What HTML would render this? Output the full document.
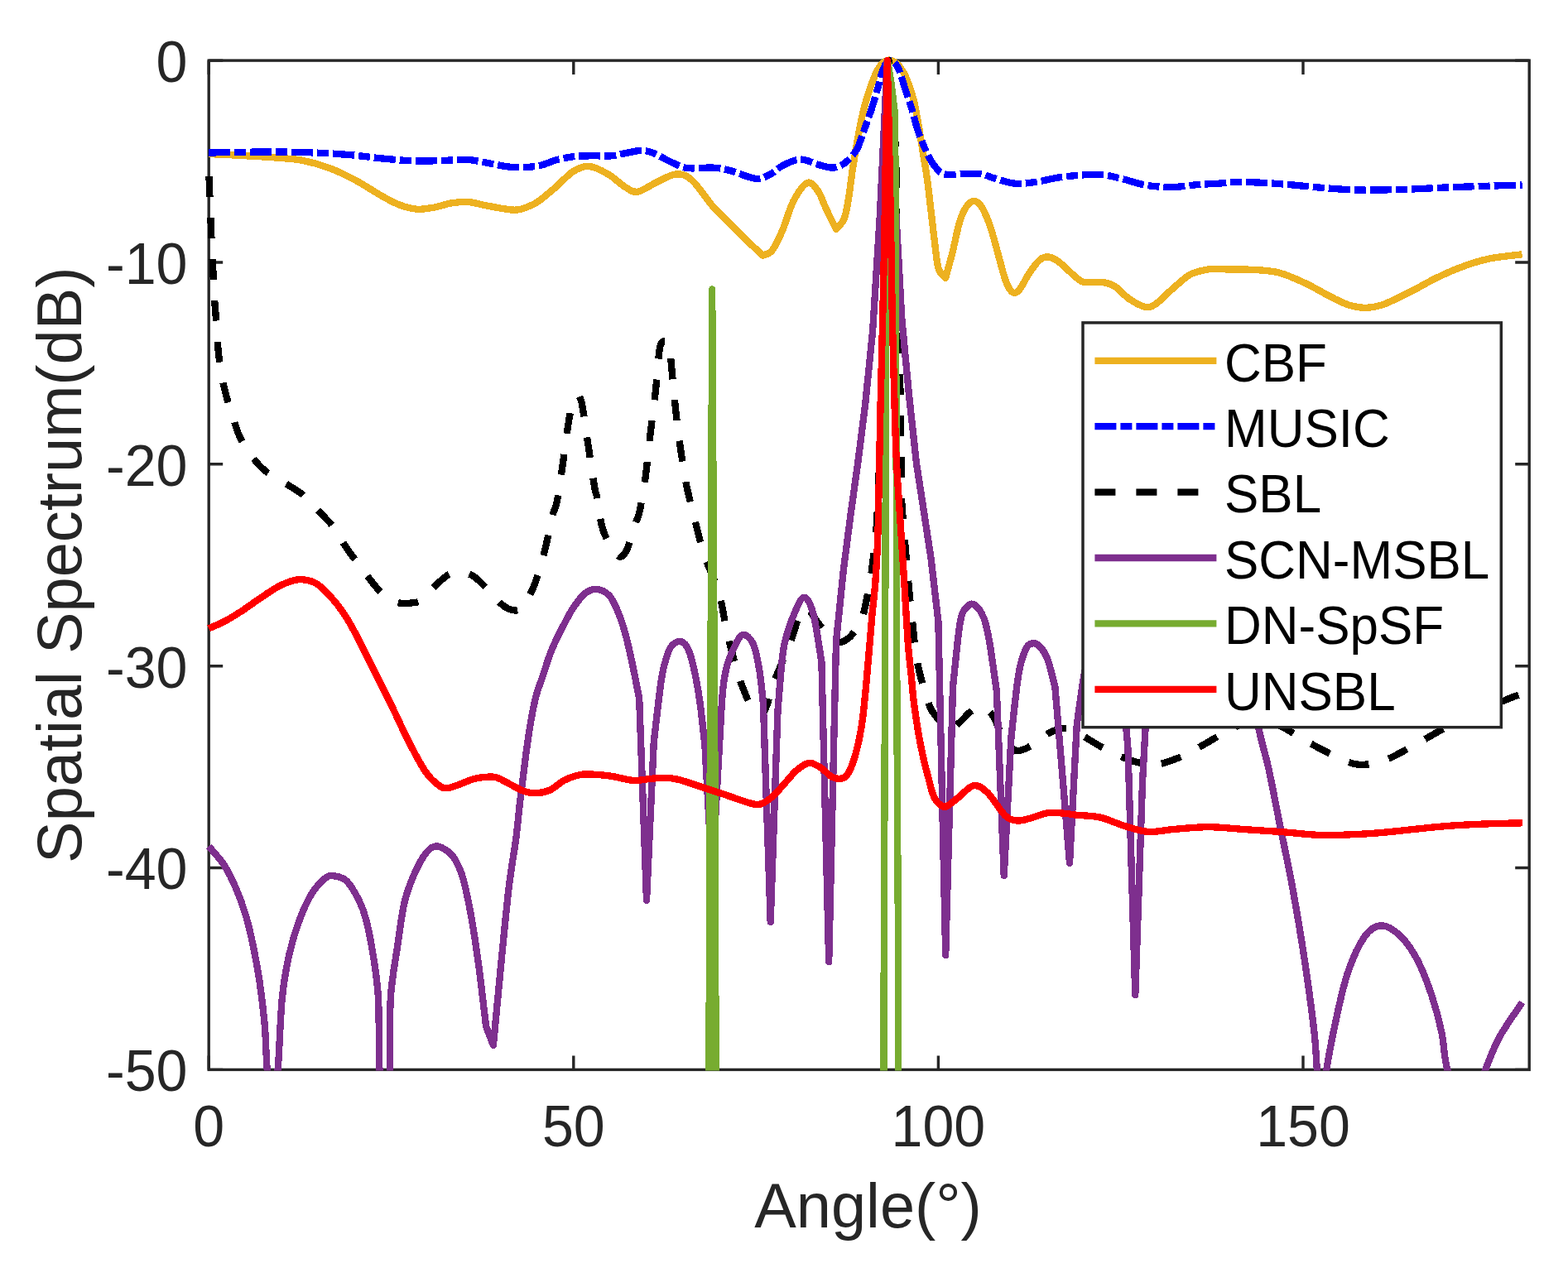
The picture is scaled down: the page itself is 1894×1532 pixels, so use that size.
<!DOCTYPE html>
<html><head><meta charset="utf-8"><title>Spatial Spectrum</title><style>html,body{margin:0;padding:0;background:#fff;}svg{display:block;}text{font-family:"Liberation Sans",sans-serif;}</style></head><body>
<svg width="1894" height="1532" viewBox="0 0 1894 1532">
<rect width="1894" height="1532" fill="#fff"/>
<defs><clipPath id="c"><rect x="236" y="40" width="1630" height="1253.4"/></clipPath></defs>
<rect x="252.2" y="73.1" width="1595" height="1219.3" fill="none" stroke="#262626" stroke-width="3.4"/>
<path d="M252.2 1292.4V1275.4M252.2 73.1V90.1M692.8 1292.4V1275.4M692.8 73.1V90.1M1133.4 1292.4V1275.4M1133.4 73.1V90.1M1574 1292.4V1275.4M1574 73.1V90.1M252.2 73.1H269.2M1847.2 73.1H1830.2M252.2 317H269.2M1847.2 317H1830.2M252.2 560.8H269.2M1847.2 560.8H1830.2M252.2 804.7H269.2M1847.2 804.7H1830.2M252.2 1048.5H269.2M1847.2 1048.5H1830.2M252.2 1292.4H269.2M1847.2 1292.4H1830.2" stroke="#262626" stroke-width="3.4" fill="none"/>
<g font-size="71" fill="#262626"><text transform="translate(252.2 1385.2) scale(0.96 1)" text-anchor="middle">0</text><text transform="translate(692.8 1385.2) scale(0.96 1)" text-anchor="middle">50</text><text transform="translate(1133.4 1385.2) scale(0.96 1)" text-anchor="middle">100</text><text transform="translate(1574 1385.2) scale(0.96 1)" text-anchor="middle">150</text><text transform="translate(226.5 98.9) scale(0.96 1)" text-anchor="end">0</text><text transform="translate(226.5 342.8) scale(0.96 1)" text-anchor="end">-10</text><text transform="translate(226.5 586.6) scale(0.96 1)" text-anchor="end">-20</text><text transform="translate(226.5 830.5) scale(0.96 1)" text-anchor="end">-30</text><text transform="translate(226.5 1074.3) scale(0.96 1)" text-anchor="end">-40</text><text transform="translate(226.5 1318.2) scale(0.96 1)" text-anchor="end">-50</text></g>
<text x="1048.5" y="1482.7" text-anchor="middle" font-size="75.8" fill="#262626">Angle(°)</text>
<text transform="translate(97.5 682.7) rotate(-90)" text-anchor="middle" font-size="75.8" fill="#262626">Spatial Spectrum(dB)</text>
<g clip-path="url(#c)"><path d="M252.2 186C258.9 186.3 278.5 187.2 292.2 188C305.9 188.8 322.2 189.6 334.5 190.6C346.8 191.6 355.6 191.9 366.2 194C376.8 196.1 387.2 199 397.8 203C408.4 207 418.9 212.2 429.5 217.8C440.1 223.4 452.4 231.9 461.2 236.8C470 241.7 475.3 244.8 482.3 247.4C489.3 250.1 496.4 252.2 503.4 252.7C510.4 253.2 517.5 251.8 524.5 250.6C531.5 249.4 538.7 246.4 545.7 245.3C552.8 244.2 559.8 243.7 566.8 244.2C573.8 244.7 578.8 246.9 587.9 248.5C597 250.1 612.9 253.7 621.7 253.7C630.5 253.7 636 250.2 640.7 248.5C645.4 246.8 644.9 247.2 650 243.5C655.1 239.8 664.1 232.3 671.1 226.3C678.1 220.3 685.5 211.5 692.2 207.3C698.9 203.1 704.2 200.4 711.2 200.9C718.2 201.4 727.1 206.2 734.5 210.4C741.9 214.6 749.6 222.8 755.6 226.3C761.6 229.8 764.1 232.7 770.4 231.6C776.7 230.5 785.9 223.5 793.6 220C801.3 216.5 809.8 210.8 816.8 210.4C823.8 210 828.5 211.3 835.9 217.8C843.3 224.3 853.5 240.7 861.2 249.5C868.9 258.3 875.3 263.6 882.3 270.6C889.3 277.7 896.9 285.5 903.4 291.8C909.9 298.1 918.4 305.8 921.4 308.6C923.3 307.6 929 307.6 933 302.3C937 297 941.5 286.9 945.7 277C949.9 267.1 953.4 252.5 958.3 243.2C963.2 233.9 970.3 223.1 975.2 221C980.1 218.9 984 225.1 987.9 230.5C991.8 235.9 994.8 245.9 998.5 253.7C1002.2 261.4 1008.1 273.1 1010 277C1011.6 274.9 1017.1 270.5 1019.6 264.3C1022.1 258.1 1023.3 250.1 1025 240C1026.7 229.9 1027.9 217.3 1030 203.6C1032.1 189.9 1035.4 170.5 1037.8 157.9C1040.2 145.3 1042 137.1 1044.4 127.9C1046.8 118.8 1049.6 110.2 1052.2 103C1054.8 95.8 1057.5 89.1 1060 84.5C1062.5 79.9 1064.8 77.5 1067 75.5C1069.2 73.5 1071.3 72.7 1073.5 72.5C1075.7 72.3 1077.9 73.3 1080 74.5C1082.1 75.7 1083.7 76.5 1086 79.5C1088.3 82.5 1091.2 86.1 1094 92.6C1096.8 99.1 1100.5 108.9 1103.1 118.7C1105.7 128.5 1107.6 140.5 1109.6 151.4C1111.5 162.3 1113.1 173.1 1114.8 184C1116.5 194.9 1118.5 205.6 1120 216.6C1121.5 227.6 1122.4 236.5 1124 250C1125.6 263.5 1128 285.2 1129.6 297.8C1131.2 310.4 1131.7 319 1133.8 325.3C1135.9 331.6 1140.8 334.1 1142.2 335.8C1143.6 330.5 1147.9 315.4 1150.7 304.2C1153.5 292.9 1156.3 277.4 1159.1 268.3C1161.9 259.2 1164.6 253.5 1167.6 249.3C1170.6 245.1 1173.9 242.6 1177.1 242.9C1180.3 243.2 1183.3 245.8 1186.6 251.4C1189.9 257 1193.6 266.1 1197.1 276.7C1200.6 287.2 1204.7 304.1 1207.7 314.7C1210.7 325.3 1212.6 333.8 1215.1 340.1C1217.6 346.4 1219.9 350.9 1222.5 352.7C1225.1 354.4 1227.4 354.5 1230.9 350.6C1234.4 346.7 1239.4 335.6 1243.6 329.5C1247.8 323.4 1252.4 316.9 1256.3 313.7C1260.2 310.5 1262.9 310 1266.8 310.5C1270.7 311 1273.9 312.6 1279.5 316.8C1285.1 321 1295.3 331.8 1300.6 335.8C1305.9 339.9 1305.9 340.2 1311.2 341.1C1316.5 342 1326.3 340.2 1332.3 341.1C1338.3 342 1341.8 343 1347.1 346.4C1352.4 349.8 1358 357.1 1364 361.2C1370 365.2 1377.7 369.6 1383 370.7C1388.3 371.8 1390.1 371.2 1395.7 367.5C1401.3 363.8 1409.8 354.5 1416.8 348.5C1423.8 342.5 1430.9 335.4 1437.9 331.6C1444.9 327.8 1453.5 326.6 1459 325.5C1464.5 324.4 1462 325.2 1471.1 325.3C1480.2 325.4 1501.1 325.2 1513.4 325.9C1525.7 326.6 1534.5 326.8 1545 329.5C1555.5 332.2 1566.1 337.3 1576.7 342.2C1587.3 347.1 1599.6 354.7 1608.4 359.1C1617.2 363.5 1622.5 366.5 1629.5 368.6C1636.5 370.7 1643.5 372 1650.6 371.8C1657.6 371.6 1663 370.7 1671.8 367.5C1680.6 364.3 1692.9 358 1703.4 352.7C1714 347.4 1724.5 340.9 1735.1 335.8C1745.7 330.7 1756.2 326 1766.8 322.1C1777.4 318.2 1786.5 315.1 1798.5 312.6C1810.5 310.1 1831.9 308.2 1838.6 307.3" stroke="#EDB120" fill="none" stroke-width="8.33" stroke-linejoin="round" shape-rendering="crispEdges"/><path d="M252.2 184.5C262.4 184.3 294.4 183.7 313.4 183.6C332.4 183.5 348.6 183.5 366.2 184C383.8 184.5 403.2 185.6 419 186.8C434.8 188 447.1 190.1 461.2 191.4C475.3 192.7 489.3 194.2 503.4 194.6C517.5 194.9 535.1 193.8 545.7 193.5C556.3 193.2 559.8 192.6 566.8 193.1C573.8 193.6 579.1 195.2 587.9 196.7C596.7 198.2 609.2 201.4 619.6 202C630 202.6 641.4 201.9 650 200.5C658.6 199.1 664.1 195.4 671.1 193.5C678.1 191.6 685.2 190.2 692.2 189.3C699.2 188.4 705.6 188.5 713.4 188.3C721.1 188.1 731.7 188.8 738.7 188.3C745.7 187.8 749.6 186.2 755.6 185.1C761.6 184 769 181.9 774.6 181.9C780.2 181.9 783.4 182.8 789.4 185.1C795.4 187.4 803.8 192.7 810.5 195.7C817.2 198.7 821 201.8 829.5 203C838 204.2 852.4 202.1 861.2 202.6C870 203.1 873.8 204 882.3 206.2C890.8 208.4 904.1 214.8 911.9 215.7C919.6 216.6 923.2 214.1 928.8 211.5C934.4 208.9 939.4 203.1 945.7 199.9C952 196.7 959.8 192.7 966.8 192.5C973.8 192.3 981.9 197.1 987.9 198.8C993.9 200.5 998.8 202.1 1003 202.5C1007.2 202.9 1009.6 202.3 1013 201C1016.4 199.7 1019.8 197.9 1023.5 194.4C1027.2 190.9 1032 185.9 1035.2 180C1038.5 174.1 1040.6 165.7 1043 159.2C1045.4 152.7 1047.6 146.7 1049.6 141C1051.6 135.3 1052.8 131.6 1054.8 125.3C1056.8 119 1059.5 109.2 1061.3 103C1063 96.8 1063.8 92.3 1065.3 88C1066.8 83.7 1068.3 79.5 1070 77C1071.7 74.5 1073.7 73.1 1075.5 73C1077.3 72.9 1079.2 74.5 1081 76.5C1082.8 78.5 1083.9 79.3 1086.1 84.8C1088.3 90.3 1091.4 101.5 1094 109.6C1096.6 117.6 1099.4 125.3 1101.8 133.1C1104.2 140.9 1105.7 148.8 1108.3 156.6C1110.9 164.4 1114.3 173 1117.5 180C1120.7 187 1123.7 193.6 1127.5 198.6C1131.3 203.6 1134.1 208.3 1140.1 210.2C1146.1 212.1 1156 210.2 1163.4 210.2C1170.8 210.2 1178.2 209.3 1184.5 210.2C1190.8 211.1 1194.4 213.6 1201.4 215.5C1208.4 217.4 1218.2 221.1 1226.7 221.8C1235.2 222.5 1243.3 220.9 1252.1 219.7C1260.9 218.5 1269.7 215.8 1279.5 214.4C1289.3 213 1302.4 211.7 1311.2 211.2C1320 210.7 1325.3 210.5 1332.3 211.2C1339.3 211.9 1344.6 213.4 1353.4 215.5C1362.2 217.6 1374.5 222.2 1385.1 223.9C1395.7 225.7 1406.2 226.2 1416.8 226C1427.4 225.8 1439.5 223.6 1448.5 222.9C1457.5 222.2 1463.8 222.3 1471.1 221.8C1478.4 221.3 1483.4 219.9 1492.2 219.7C1501 219.5 1513.3 220.3 1523.9 220.8C1534.5 221.3 1545 222 1555.6 222.9C1566.2 223.8 1575 224.9 1587.3 226C1599.6 227.1 1617.2 228.6 1629.5 229.2C1641.8 229.8 1648.9 229.7 1661.2 229.6C1673.5 229.5 1689.3 229.1 1703.4 228.6C1717.5 228.1 1731.6 227.1 1745.7 226.5C1759.8 225.9 1772.4 225.5 1787.9 225C1803.4 224.5 1830.1 223.8 1838.6 223.5" stroke="#0000FF" fill="none" stroke-width="8.33" stroke-linejoin="round" shape-rendering="crispEdges" stroke-dasharray="26 5 14 5"/><path d="M252.5 213C252.7 217.5 253.2 231.3 253.5 240C253.8 248.7 254.2 256.7 254.5 265C254.8 273.3 255.1 280.8 255.5 290C255.9 299.2 256.4 308.3 257 320C257.6 331.7 258.2 348 259 360C259.8 372 260.7 380.8 261.5 392C262.3 403.2 262.9 416.5 264 427C265.1 437.5 266.5 446.7 268 455C269.5 463.3 271 469.5 273 477C275 484.5 277.5 492.2 280 500C282.5 507.8 285.2 517.2 288 524C290.8 530.8 293.8 535.8 297 541C300.2 546.2 303.8 551 307 555C310.2 559 312.8 562 316 565C319.2 568 320.7 569.5 326 573C331.3 576.5 342.5 582.7 348 586C353.5 589.3 355.5 590.6 359 593C362.5 595.4 364.5 596.2 369 600.5C373.5 604.8 381.7 614 386 618.6C390.3 623.2 392.2 624.9 395 628C397.8 631.1 399.5 632 403 637C406.5 642 412.6 652.7 416 658C419.4 663.3 420.5 665 423.2 668.7C425.9 672.4 426.9 673.3 432 680C437.1 686.7 447.6 701.5 453.9 708.8C460.2 716.1 464.6 720.2 469.7 723.6C474.8 727 479.9 728.1 484.5 728.9C489.1 729.7 492.8 729.2 497 728.5C501.2 727.8 504.9 728.3 509.8 724.7C514.8 721.1 520.7 712 526.7 706.7C532.7 701.4 538.7 694.7 545.7 692.7C552.8 690.7 561.6 691.1 569 694.5C576.4 697.9 583.7 706.9 590 713C596.3 719.1 602.1 727 607 731C611.9 735 615.7 736.6 619.6 737.2C623.5 737.8 626.7 737.8 630.2 734.5C633.7 731.2 637.6 723.7 640.8 717.3C644 710.9 646.6 704 649.2 696.2C651.8 688.5 654.3 679.6 656.6 670.8C658.9 662 661.1 651.9 663 643.4C664.9 634.9 666.5 626.4 668.2 620C669.9 613.6 671 615.8 673 605C675 594.2 678.1 572 680.5 555.4C682.9 538.8 685.5 517.2 687.6 505.3C689.7 493.4 691 488.4 693 484C695 479.6 698.7 479.8 699.8 479C700.4 480.8 701.5 480 703.2 489.6C705 499.2 707.8 520.2 710.3 536.6C712.8 553 716.3 577.7 718.1 588.3C719.9 598.9 719.5 591.9 721 600C722.5 608.1 724.6 627 727.4 637C730.2 647 734.4 654.4 737.9 660.3C741.4 666.2 745.3 671.8 748.5 672.5C751.7 673.2 753.8 671.1 757 664.5C760.2 657.9 764.9 640.8 767.5 632.8C770.1 624.8 770.9 626 772.9 616.5C774.9 607 777.6 591.1 779.7 575.8C781.8 560.5 783.5 541.9 785.5 524.9C787.5 507.9 789.9 490.8 791.7 474C793.5 457.2 795 434.1 796.4 423.9C797.8 413.7 798.7 415 800.4 413C802.1 411 805.6 412.2 806.6 412C807 413.4 807.8 410.9 809 420.7C810.2 430.5 812 454.1 813.7 470.8C815.4 487.5 817 504.6 819.1 521C821.2 537.5 824.4 558 826.2 569.5C828 581 828.2 581.7 830 590C831.8 598.3 833.9 606.2 837.2 619.2C840.5 632.2 844.7 651.8 849.9 668.1C855.1 684.4 863.8 701.1 868.5 717.1C873.2 733.1 874.5 748.1 878.3 764.1C882 780.1 886.9 799.5 891 813C895.1 826.5 899.5 837 903 845C906.5 853 909.2 857.7 912 861C914.8 864.3 917.5 866.8 920 865C922.5 863.2 924.5 856.9 927 850C929.5 843.1 930.5 836.2 935.1 823.8C939.7 811.4 949.9 788.4 954.7 775.8C959.5 763.2 961.4 754.6 964 748C966.6 741.4 968.1 737.7 970.4 736C972.7 734.3 974.7 734.8 978 738C981.3 741.2 985.4 749.5 990 755C994.6 760.5 1001.4 767.4 1005.6 770.9C1009.8 774.4 1012.2 775.8 1015.4 775.8C1018.6 775.8 1022.1 773.3 1025 771C1027.9 768.7 1030.4 765.4 1033 762C1035.6 758.6 1037.7 760.8 1040.7 750.7C1043.7 740.6 1048.2 718 1051 701.5C1053.8 685 1055.7 668.3 1057.3 652C1058.9 635.7 1059.3 628.8 1060.4 603.5C1061.5 578.2 1062.9 537.2 1064 500C1065.1 462.8 1066.1 421.7 1067 380C1067.9 338.3 1068.8 291.7 1069.5 250C1070.2 208.3 1070.8 159.5 1071.5 130C1072.2 100.5 1073.2 82.5 1073.5 73C1074.1 79.2 1075.9 97.2 1077 110C1078.1 122.8 1079.1 135 1080 150C1080.9 165 1081.9 175 1082.5 200C1083.1 225 1083 266.7 1083.5 300C1084 333.3 1084.7 375 1085.3 400C1085.9 425 1086.6 433.3 1087 450C1087.4 466.7 1087.5 483.2 1087.8 500C1088 516.8 1088.3 534.2 1088.5 551C1088.7 567.8 1088.3 584.5 1089 601C1089.7 617.5 1091.4 633.5 1092.7 650C1094 666.5 1095.4 683.3 1096.9 700C1098.5 716.7 1100.1 733.2 1102 750C1103.9 766.8 1104.9 784.3 1108.2 801C1111.5 817.7 1118 839.5 1121.8 850.3C1125.6 861.1 1128 861.7 1131 866C1134 870.3 1136.8 873.8 1140 876C1143.2 878.2 1146.7 879.7 1150 879C1153.3 878.3 1156.3 875.2 1160 872C1163.7 868.8 1168.3 863 1172 860C1175.7 857 1179 854.5 1182.3 854.2C1185.6 853.9 1189 856 1192 858C1195 860 1196.3 859.9 1200 866C1203.7 872.1 1209.2 887.6 1214 894.4C1218.8 901.2 1222.8 906.3 1228.8 907C1234.8 907.7 1243.6 902.1 1249.9 898.6C1256.2 895.1 1261.3 889 1266.8 885.9C1272.3 882.8 1278.1 880.7 1283 880C1287.9 879.3 1291.4 879.7 1296.4 881.7C1301.4 883.7 1305.8 887.8 1313.2 892.2C1320.6 896.6 1331.2 903.4 1340.7 908C1350.2 912.6 1360.8 917.4 1370 920C1379.2 922.6 1387.5 924.2 1395.8 923.7C1404.1 923.2 1412.2 919.9 1420 917C1427.8 914.1 1431.3 912.2 1442.3 906.3C1453.3 900.4 1474.6 887.3 1485.9 881.6C1497.2 875.9 1501 873.3 1510 872C1519 870.7 1528.5 870 1540 874C1551.5 878 1564.6 888.5 1578.8 896.1C1593 903.7 1613.6 914.8 1625.2 919.4C1636.8 924 1640.3 924 1648.5 923.7C1656.7 923.5 1663 922.7 1674.6 917.9C1686.2 913.1 1702.3 903.4 1718.2 894.7C1734.1 886.1 1753.4 874.1 1770 866C1786.6 857.9 1806.6 850.7 1818 846C1829.4 841.3 1835.2 839.3 1838.6 838" stroke="#000" fill="none" stroke-width="8.33" stroke-linejoin="round" shape-rendering="crispEdges" stroke-dasharray="25 25"/><path d="M252.2 1022.5C255.3 1026.4 265.5 1036.9 271.1 1045.7C276.7 1054.5 281.7 1065.5 285.9 1075.3C290.1 1085.1 293.3 1094.2 296.5 1104.8C299.7 1115.3 302.1 1125.2 304.9 1138.6C307.7 1152 310.9 1168.5 313.4 1185.1C315.9 1201.6 318.1 1219.8 319.7 1237.9C321.3 1256.1 321.3 1277 322.9 1294C324.4 1311 328 1332.3 329 1340C330.1 1332.3 333.5 1316.3 335.5 1294C337.5 1271.7 338.5 1229.6 340.8 1206.2C343.1 1182.8 345.8 1169.2 349.3 1153.4C352.8 1137.6 357.3 1123.5 361.9 1111.2C366.5 1098.9 371.4 1088 376.7 1079.5C382 1071 389 1064 393.6 1060.5C398.2 1057 400 1057.7 404.2 1058.4C408.4 1059.1 414.1 1059.8 419 1064.7C423.9 1069.6 429.8 1080.2 433.7 1087.9C437.6 1095.7 439.4 1100.3 442.2 1111.2C445 1122.1 448.1 1137.6 450.6 1153.4C453.1 1169.2 455.7 1182.8 457 1206.2C458.3 1229.6 457.3 1271.7 458.5 1294C459.7 1316.3 463.1 1332.3 464 1340C465.1 1332.3 469.4 1316.3 470.7 1294C472 1271.7 470.2 1231.4 471.8 1206.2C473.4 1181 477.4 1162.2 480.2 1142.8C483 1123.4 485.1 1104.8 488.6 1090C492.1 1075.2 496.7 1064.3 501.3 1054.1C505.9 1043.9 511.5 1034.1 516.1 1028.8C520.7 1023.5 523.9 1021.8 528.8 1022.5C533.7 1023.2 541.1 1028.1 545.7 1033C550.3 1037.9 553.4 1045.3 556.2 1052C559 1058.7 560.1 1063.7 562.3 1073.2C564.5 1082.7 566.8 1093.4 569.5 1109C572.2 1124.6 575.4 1145.2 578.3 1167C581.2 1188.8 585.6 1227.8 587.1 1240L595.9 1263L604.7 1170C606.2 1155.3 611.2 1102.8 613.5 1082C615.8 1061.2 616.8 1057 618.5 1045C620.2 1033 622.2 1022.1 623.7 1010C625.2 997.9 626.4 983.9 627.7 972.1C629.1 960.3 630.4 950.3 631.8 939.4C633.2 928.5 634.4 917.7 635.9 906.8C637.4 895.9 638.9 885.1 640.8 874.2C642.7 863.3 644.8 851.1 647.3 841.6C649.8 832.1 652.8 825.3 655.5 817.1C658.2 808.9 660.9 800 663.6 792.6C666.3 785.2 669.1 778.9 671.8 773C674.5 767.1 676.6 763.2 679.9 757C683.2 750.8 687 742.6 691.4 736C695.8 729.4 701.3 721.3 706.2 717.3C711.1 713.3 716.1 711.6 721 712C725.9 712.4 731.6 715.1 735.8 719.4C740 723.7 742.9 730.7 746 738C749.1 745.3 751.7 752.7 754.6 763C757.5 773.3 760.5 786.5 763.4 800C766.3 813.5 770.7 836.7 772.2 844L781 1088L789.8 896C791.3 883.8 796.2 839.3 798.6 823C801 806.7 802.1 804.9 804 798C805.9 791.1 807.4 785.6 810.2 781.8C813.1 778 817.8 775 821.1 775C824.4 775 827.4 777.2 830 781.8C832.6 786.4 834.5 792.2 837 802.7C839.5 813.2 842.5 828.3 844.9 844.5C847.3 860.7 850.3 890.8 851.4 900L860.2 1060L869 900C869.7 889.2 871.5 850.8 873 835C874.5 819.2 875.8 813.6 878 805C880.2 796.4 883.1 789.9 886.2 783.6C889.4 777.3 893 768 896.9 767C900.8 766 906.3 770.5 909.7 777.8C913.1 785.1 915.5 799 917.5 811C919.5 823 921.2 843.5 921.9 850L930.7 1114L939.5 858C940.4 847.6 943.4 809.2 944.9 795.4C946.4 781.6 946.3 782.8 948.3 775C950.2 767.2 952.9 757.2 956.6 748.4C960.3 739.6 966.1 723.3 970.4 722C974.6 720.7 978.4 727.6 982.1 740.6C985.8 753.6 990.7 790.1 992.4 800L1001.2 1162L1010 775L1018.8 689L1027.6 621L1036.4 558L1045.3 487L1054.1 400L1062.9 260L1071.7 73L1080.5 225L1089.3 385L1098.1 478L1107 560L1115.8 617L1124.6 675L1133.4 751L1142.2 1154L1151 830C1152.5 817 1156.9 768.2 1159.8 752C1162.7 735.8 1165.6 736.5 1168.6 733C1171.5 729.5 1174.2 728.7 1177.5 731C1180.8 733.3 1185.4 739.4 1188.3 746.7C1191.2 754 1192.5 760.3 1195.1 775C1197.7 789.7 1202.4 825 1203.9 835L1212.7 1058L1221.5 890C1223 877.5 1227.4 832.6 1230.3 815C1233.2 797.4 1236.2 790.4 1239.1 784.1C1242 777.8 1244.8 777.6 1247.7 777.3C1250.7 776.9 1253.8 778.7 1256.8 782C1259.8 785.3 1262.7 789 1265.6 797C1268.5 805 1272.9 824.5 1274.4 830L1283.2 935L1292 1043L1300.8 875C1302.3 865 1306.4 832.5 1309.6 815C1312.8 797.5 1314.9 781.7 1320 770C1325.1 758.3 1334.4 740 1340 745C1345.6 750 1351.4 790.8 1353.7 800L1362.5 905L1371.3 1202L1380.1 943C1381.6 919.2 1385.6 833.8 1388.9 800C1392.2 766.2 1393.2 760 1400 740C1406.8 720 1420 690 1430 680C1440 670 1450 670 1460 680C1470 690 1479.9 706.4 1490 740C1500.1 773.6 1513.7 850.2 1520.7 881.6C1527.8 913 1528 908.2 1532.3 928.1C1536.6 948 1541.9 976.5 1546.8 1000.7C1551.7 1024.9 1556.6 1046.7 1561.4 1073.3C1566.2 1099.9 1571.6 1131.4 1575.9 1160.4C1580.2 1189.4 1585 1225.2 1587.5 1247.5C1590 1269.8 1589.6 1278.6 1591 1294C1592.4 1309.4 1595.2 1332.3 1596 1340C1597 1332.3 1599.1 1311.8 1602 1294C1604.9 1276.2 1609.2 1252.8 1613.6 1233C1617.9 1213.2 1622.3 1191.8 1628.1 1174.9C1633.9 1158 1641.7 1140.8 1648.5 1131.4C1655.3 1122 1661.5 1118.3 1668.8 1118.3C1676 1118.3 1684.7 1124.4 1692 1131.4C1699.3 1138.4 1706.1 1148.3 1712.4 1160.4C1718.7 1172.5 1725 1189.5 1729.8 1204C1734.6 1218.5 1738.3 1232.5 1741.4 1247.5C1744.5 1262.5 1743.8 1275.2 1748.6 1294C1753.4 1312.8 1766.4 1349 1770 1360C1774 1349 1786.9 1311.8 1793.7 1294C1800.5 1276.2 1803.6 1267.1 1811.1 1253.3C1818.6 1239.5 1834.1 1218.2 1838.7 1211.2" stroke="#7E2F8E" fill="none" stroke-width="8.33" stroke-linejoin="round" shape-rendering="crispEdges"/><path d="M856.2 1400 L856.4 1292 L857.6 950 L858.8 730 L860.2 349.5 L862.3 730 L863.6 950 L864.6 1292 L864.8 1400" stroke="#77AC30" fill="none" stroke-width="8.33" stroke-linejoin="round" shape-rendering="crispEdges"/><path d="M1067.3 1400 L1067.6 1200 L1069.3 730 L1070.5 350 L1072 73.5 L1076.5 100 L1080.7 135 L1081.5 200 L1082.5 500 L1083.5 880 L1085 1150 L1085.3 1400" stroke="#77AC30" fill="none" stroke-width="8.33" stroke-linejoin="round" shape-rendering="crispEdges"/><path d="M252.2 759.3C255.3 757.9 264.4 754.3 271.1 750.8C277.8 747.3 285.1 742.7 292.2 738.1C299.2 733.5 306.3 728.1 313.4 723.4C320.4 718.6 328.2 713.1 334.5 709.6C340.8 706.1 346.5 703.8 351.4 702.2C356.3 700.6 359.1 699.7 364 700.1C368.9 700.5 375.3 701.2 380.9 704.4C386.5 707.6 392.2 713.1 397.8 719.1C403.4 725.1 409.4 732.5 414.7 740.3C420 748 423.5 754.4 429.5 765.6C435.5 776.9 443.6 793.7 450.6 807.8C457.7 821.9 464.8 835.7 471.8 850.1C478.9 864.5 485.9 880.7 492.9 894.4C499.9 908.1 507.7 923.2 514 932.4C520.3 941.6 526.3 946.2 530.9 949.5C535.5 952.8 537.2 952.4 541.4 952C545.6 951.6 550.9 949.1 556.2 947.2C561.5 945.4 567.8 942.3 573.1 940.9C578.4 939.5 583.4 939 587.9 938.8C592.4 938.5 595.3 937.9 600 939.4C604.7 940.9 610.9 944.9 616.3 947.6C621.7 950.3 627.2 954 632.6 955.8C638 957.6 643.5 958.5 648.9 958.2C654.3 957.9 659.8 956.7 665.3 954.1C670.8 951.5 675.8 945.7 681.6 942.7C687.4 939.7 694.6 937.4 700 936.2C705.4 935 707.8 935.3 714 935.5C720.2 935.7 728.8 936.4 737.3 937.6C745.8 938.8 756.8 942.3 764.7 942.9C772.7 943.5 778.7 941.5 785 941C791.3 940.5 796.9 939.6 802.7 939.8C808.5 939.9 812.9 940.3 819.6 941.9C826.3 943.5 833.7 946.3 842.9 949.3C852.1 952.3 864 956.3 874.6 959.8C885.2 963.3 898.8 968.5 906.2 970.4C913.6 972.3 914.3 972.8 918.9 971.4C923.5 970 928.5 966.5 933.7 961.9C938.9 957.3 945.2 949.3 950 944C954.8 938.7 958.1 934 962.7 930.3C967.3 926.6 972.6 922.2 977.5 921.8C982.4 921.4 988 925.5 992.2 928.1C996.5 930.7 999.6 935.4 1003 937.5C1006.4 939.6 1009.2 940.9 1012.5 940.8C1015.8 940.6 1019.5 941.5 1023 936.6C1026.5 931.7 1030.3 922.6 1033.4 911.5C1036.5 900.4 1039.4 887.2 1041.8 869.8C1044.2 852.4 1046.1 828 1048 807.1C1049.9 786.2 1051.7 761.8 1053.3 744.4C1054.9 727 1056.2 720.1 1057.4 702.7C1058.6 685.3 1059.6 673 1060.6 640C1061.6 607 1062.2 548.3 1063.2 505C1064.2 461.7 1065.5 414.2 1066.3 380C1067.1 345.8 1067.4 333.3 1068 300C1068.6 266.7 1069.4 217.8 1070 180C1070.6 142.2 1071.5 90.8 1071.8 73C1072.2 90.8 1073.4 142.2 1074.2 180C1075 217.8 1075.9 266.7 1076.5 300C1077.1 333.3 1077 345.8 1077.8 380C1078.5 414.2 1080.1 475 1081 505C1081.9 535 1081.8 536.9 1083 560C1084.2 583.1 1086.7 617.8 1088.4 643.6C1090.1 669.4 1091.6 692.3 1093 715C1094.4 737.7 1095.7 763.3 1097 780C1098.3 796.7 1099.4 803.5 1100.6 815.2C1101.8 827 1102.6 838.8 1104.1 850.5C1105.6 862.2 1107.6 874.9 1109.4 885.7C1111.2 896.5 1113.2 906.3 1115.2 915.1C1117.2 923.9 1119.1 931.1 1121.1 938.6C1123.1 946.1 1125 954.8 1127 960C1129 965.2 1130.5 967.6 1133 970C1135.5 972.4 1138.2 975.6 1142.2 974.6C1146.2 973.6 1151.4 968.2 1157 964C1162.6 959.8 1170 950.3 1176 949.3C1182 948.2 1186.6 951.7 1192.9 957.7C1199.2 963.7 1208 979.6 1214 985.2C1220 990.8 1223.5 991 1228.8 991.5C1234.1 992 1239.4 989.9 1245.7 988.3C1252 986.7 1259.8 982.9 1266.8 982C1273.8 981.1 1282.4 982.5 1287.9 983C1293.4 983.5 1293.2 983.9 1300 984.7C1306.8 985.5 1319.3 985.4 1329 987.6C1338.7 989.8 1348.4 994.9 1358.1 997.8C1367.8 1000.7 1377.4 1004.3 1387.1 1005C1396.8 1005.7 1404.1 1003.1 1416.2 1002.1C1428.3 1001.1 1445.2 999.2 1459.7 999.2C1474.2 999.2 1488.8 1001.1 1503.3 1002.1C1517.8 1003.1 1532.3 1003.9 1546.8 1005C1561.3 1006.1 1578.3 1008.2 1590.4 1008.8C1602.5 1009.4 1607.3 1009.2 1619.4 1008.8C1631.5 1008.4 1648.5 1007.6 1663 1006.5C1677.5 1005.4 1692.1 1003.6 1706.6 1002.1C1721.1 1000.6 1735.6 998.9 1750.1 997.8C1764.6 996.7 1778.9 996.1 1793.7 995.5C1808.5 994.9 1831.2 994.5 1838.7 994.3" stroke="#FF0000" fill="none" stroke-width="8.33" stroke-linejoin="round" shape-rendering="crispEdges"/></g>
<g font-size="62" fill="#000"><rect x="1308" y="389.9" width="505.3" height="488.8" fill="#fff" stroke="#262626" stroke-width="3.5"/><path d="M1322.4 435.8H1469.4" stroke="#EDB120" stroke-width="8.33"/><text transform="translate(1479 460.6) scale(1 1.035)">CBF</text><path d="M1322.4 515.2H1469.4" stroke="#0000FF" stroke-width="8.33" stroke-dasharray="26 5 14 5"/><text transform="translate(1479 540) scale(1 1.035)">MUSIC</text><path d="M1322.4 594.6H1469.4" stroke="#000" stroke-width="8.33" stroke-dasharray="25 25"/><text transform="translate(1479 619.4) scale(1 1.035)">SBL</text><path d="M1322.4 674H1469.4" stroke="#7E2F8E" stroke-width="8.33"/><text transform="translate(1479 698.8) scale(1 1.035)">SCN-MSBL</text><path d="M1322.4 753.4H1469.4" stroke="#77AC30" stroke-width="8.33"/><text transform="translate(1479 778.2) scale(1 1.035)">DN-SpSF</text><path d="M1322.4 832.8H1469.4" stroke="#FF0000" stroke-width="8.33"/><text transform="translate(1479 857.6) scale(1 1.035)">UNSBL</text></g>
</svg>
</body></html>
